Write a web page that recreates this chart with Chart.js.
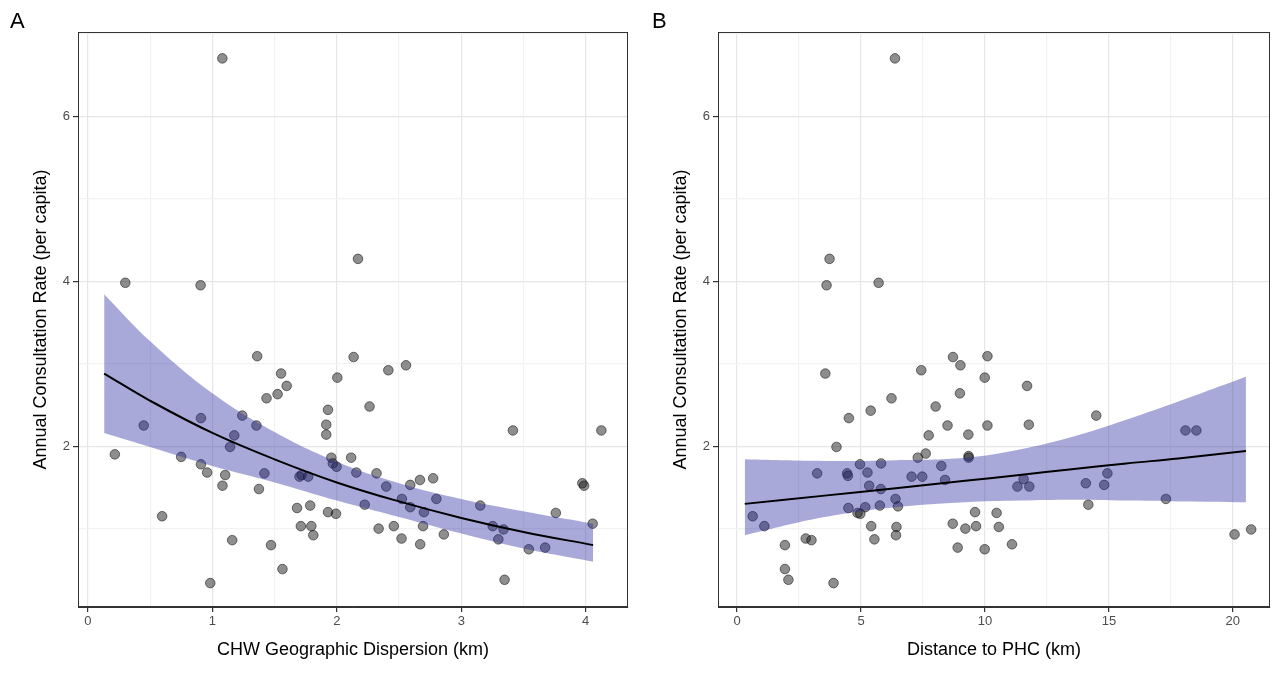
<!DOCTYPE html>
<html lang="en">
<head>
    <meta charset="UTF-8">
    <title>Consultation rate vs dispersion and distance</title>
    <script src="https://cdn.jsdelivr.net/npm/chart.js@4.4.1/dist/chart.umd.min.js"></script>
    <style>
        body { margin: 0; background: #fff; width: 1280px; height: 675px; position: relative; overflow: hidden; font-family: "Liberation Sans", Arial, sans-serif; }
        .panel { position: absolute; top: 0; width: 640px; height: 675px; }
        .tag { position: absolute; top: 8px; font-size: 22px; color: #000; }
    </style>
</head>
<body>
    <div class="panel" style="left:0"><canvas id="chartA"></canvas></div>
    <div class="panel" style="left:640px"><canvas id="chartB"></canvas></div>
    <div class="tag" style="left:10px">A</div>
    <div class="tag" style="left:652px">B</div>

    <script>
        // Panel A: CHW geographic dispersion (km) vs consultation rate
        const dispX = [2.17,0.30,0.905,1.36,2.135,2.556,2.414,1.552,2.004,1.597,1.435,1.524,2.263,1.929,1.915,1.915,1.24,0.908,1.354,0.448,
            3.415,4.126,1.176,1.142,0.216,0.749,1.956,2.115,1.968,1.998,0.908,0.958,1.103,1.418,1.70,1.717,1.77,2.157,2.319,2.668,
            2.774,2.397,2.59,1.081,1.374,3.973,3.987,2.523,2.80,2.224,3.153,2.59,2.70,3.76,1.68,1.786,1.929,1.993,0.596,4.056,
            3.253,3.34,2.693,2.458,2.336,1.711,1.795,1.811,2.86,3.298,2.52,2.67,3.543,3.674,1.159,1.471,1.563,0.983,3.348,1.08];
        const dispY = [4.27,3.98,3.95,3.09,3.08,2.98,2.92,2.88,2.83,2.73,2.58,2.63,2.48,2.44,2.26,2.14,2.37,2.34,2.25,2.25,
            2.19,2.19,2.13,1.99,1.90,1.87,1.86,1.86,1.79,1.75,1.78,1.68,1.65,1.67,1.63,1.65,1.63,1.68,1.67,1.59,
            1.61,1.51,1.53,1.52,1.48,1.55,1.52,1.36,1.36,1.29,1.28,1.26,1.20,1.19,1.25,1.28,1.20,1.18,1.15,1.06,
            1.03,0.99,1.03,1.03,1.00,1.03,1.03,0.92,0.93,0.87,0.88,0.81,0.75,0.77,0.86,0.80,0.51,0.34,0.38,6.70];
        const fitAX = [0.13, 0.5, 1, 1.5, 2, 2.5, 3, 3.5, 4.06];
        const fitAY = [2.88, 2.55, 2.16, 1.84, 1.56, 1.33, 1.13, 0.96, 0.80];
        const fitAUpper = [3.84, 3.27, 2.64, 2.17, 1.81, 1.55, 1.36, 1.21, 1.06];
        const fitALower = [2.16, 1.99, 1.76, 1.56, 1.34, 1.14, 0.94, 0.76, 0.60];

        // Panel B: distance to PHC (km) vs consultation rate
        const distX = [3.73,3.61,5.71,3.56,8.71,10.10,9.01,7.43,9.99,11.70,6.23,8.99,8.01,5.39,14.49,4.51,8.49,10.10,11.77,18.09,
            18.53,7.73,9.33,4.01,7.61,7.29,9.34,9.34,4.96,5.81,8.24,3.23,4.44,4.47,5.26,7.04,7.47,8.39,11.56,14.94,
            14.07,14.81,11.31,11.79,5.33,5.80,6.39,6.49,17.30,4.49,5.17,5.76,4.86,4.97,14.17,9.60,10.47,0.63,1.10,5.41,
            6.43,8.70,9.21,9.64,10.56,20.74,20.07,2.77,3.00,5.54,6.41,11.09,1.93,8.90,9.99,1.93,2.07,3.89,6.37];
        const distY = [4.27,3.95,3.98,2.88,3.08,3.09,2.98,2.92,2.83,2.73,2.58,2.64,2.48,2.43,2.37,2.34,2.25,2.25,2.26,2.19,
            2.19,2.13,2.14,1.99,1.91,1.86,1.88,1.86,1.78,1.79,1.76,1.67,1.67,1.64,1.68,1.63,1.63,1.59,1.60,1.67,
            1.55,1.53,1.51,1.51,1.52,1.48,1.36,1.27,1.36,1.25,1.26,1.28,1.19,1.18,1.29,1.20,1.19,1.15,1.03,1.03,
            1.02,1.06,1.00,1.03,1.02,0.99,0.93,0.88,0.86,0.87,0.92,0.81,0.80,0.77,0.75,0.51,0.38,0.34,6.70];
        const fitBX = [0.31, 3.53, 6.4, 9.2, 11.4, 13.5, 15.7, 17.8, 20.53];
        const fitBY = [1.30, 1.40, 1.49, 1.58, 1.65, 1.72, 1.79, 1.85, 1.94];
        const fitBUpper = [1.84, 1.82, 1.83, 1.86, 1.96, 2.11, 2.32, 2.54, 2.84];
        const fitBLower = [0.92, 1.14, 1.26, 1.32, 1.34, 1.35, 1.34, 1.33, 1.32];

        const yTicks = [1, 2, 3, 4, 5, 6, 7];
        const yLabels = [2, 4, 6];

        Chart.defaults.font.family = '"Liberation Sans", Arial, sans-serif';
        Chart.defaults.animation = false;

        function pairs(xs, ys) {
            return xs.map((x, i) => ({ x: x, y: ys[i] }));
        }

        function gridColor(ctx, labelled) {
            return labelled(ctx.tick.value) ? '#e6e6e6' : '#f2f2f2';
        }

        function makeChart(id, xs, ys, fx, fy, fu, fl, xMin, xMax, xStep, xMajor, xTitle, rightPad) {
            const isMajorX = v => Math.abs(v / xMajor - Math.round(v / xMajor)) < 1e-6;
            const isMajorY = v => yLabels.includes(v);
            return new Chart(document.getElementById(id), {
                type: 'scatter',
                data: {
                    datasets: [
                        {
                            data: pairs(xs, ys), order: 3,
                            pointRadius: 4.8, pointBackgroundColor: 'rgba(30,30,30,0.5)',
                            pointBorderColor: 'rgba(0,0,0,0.5)', pointBorderWidth: 1
                        },
                        {
                            type: 'line', data: pairs(fx, fu), order: 2, fill: '+1',
                            backgroundColor: 'rgba(40,40,160,0.4)', borderWidth: 0, pointRadius: 0, tension: 0.4
                        },
                        {
                            type: 'line', data: pairs(fx, fl), order: 2, fill: false,
                            borderWidth: 0, pointRadius: 0, tension: 0.4
                        },
                        {
                            type: 'line', data: pairs(fx, fy), order: 1,
                            borderColor: '#000', borderWidth: 2, pointRadius: 0, tension: 0.4, fill: false
                        }
                    ]
                },
                options: {
                    responsive: false,
                    devicePixelRatio: 1,
                    layout: { padding: { top: 32, right: rightPad, left: 26, bottom: 10 } },
                    plugins: { legend: { display: false }, tooltip: { enabled: false } },
                    scales: {
                        x: {
                            type: 'linear', min: xMin, max: xMax,
                            afterFit: s => { s.height = 58; },
                            afterBuildTicks: s => {
                                const t = [];
                                for (let v = Math.ceil(xMin / xStep) * xStep; v <= xMax + 1e-9; v += xStep) t.push({ value: +v.toFixed(4) });
                                s.ticks = t;
                            },
                            ticks: {
                                color: '#4d4d4d', font: { size: 13 }, padding: 2, maxRotation: 0, autoSkip: false,
                                callback: v => isMajorX(v) ? String(v) : ''
                            },
                            grid: {
                                color: ctx => gridColor(ctx, isMajorX), lineWidth: 1.2,
                                tickColor: ctx => isMajorX(ctx.tick.value) ? '#333' : 'rgba(0,0,0,0)', tickLength: 5
                            },
                            border: { display: true, color: '#333', width: 1 },
                            title: { display: true, text: xTitle, color: '#000', font: { size: 18 }, padding: { top: 4 } }
                        },
                        y: {
                            type: 'linear', min: 0.05, max: 7.02,
                            afterFit: s => { s.width = 52; },
                            afterBuildTicks: s => { s.ticks = yTicks.map(v => ({ value: v })); },
                            ticks: {
                                color: '#4d4d4d', font: { size: 13 }, padding: 3, autoSkip: false,
                                callback: v => isMajorY(v) ? String(v) : ''
                            },
                            grid: {
                                color: ctx => gridColor(ctx, isMajorY), lineWidth: 1.2,
                                tickColor: ctx => isMajorY(ctx.tick.value) ? '#333' : 'rgba(0,0,0,0)', tickLength: 5
                            },
                            border: { display: true, color: '#333', width: 1 },
                            title: { display: true, text: 'Annual Consultation Rate (per capita)', color: '#000', font: { size: 18 }, padding: { bottom: 6 } }
                        }
                    }
                },
                plugins: [{
                    // full panel border like theme_bw
                    id: 'frame',
                    afterDraw: c => {
                        const a = c.chartArea, g = c.ctx;
                        g.save();
                        g.strokeStyle = '#333';
                        g.lineWidth = 1;
                        g.strokeRect(a.left + 0.5, a.top + 0.5, a.right - a.left - 1, a.bottom - a.top - 1);
                        g.restore();
                    }
                }]
            });
        }

        function setup(id) {
            const c = document.getElementById(id);
            c.width = 640; c.height = 675;
            c.style.width = '640px'; c.style.height = '675px';
        }
        setup('chartA');
        setup('chartB');

        makeChart('chartA', dispX, dispY, fitAX, fitAY, fitAUpper, fitALower,
            -0.08, 4.34, 0.5, 1, 'CHW Geographic Dispersion (km)', 12);
        makeChart('chartB', distX, distY, fitBX, fitBY, fitBUpper, fitBLower,
            -0.77, 21.5, 2.5, 5, 'Distance to PHC (km)', 10);
    </script>
</body>
</html>
